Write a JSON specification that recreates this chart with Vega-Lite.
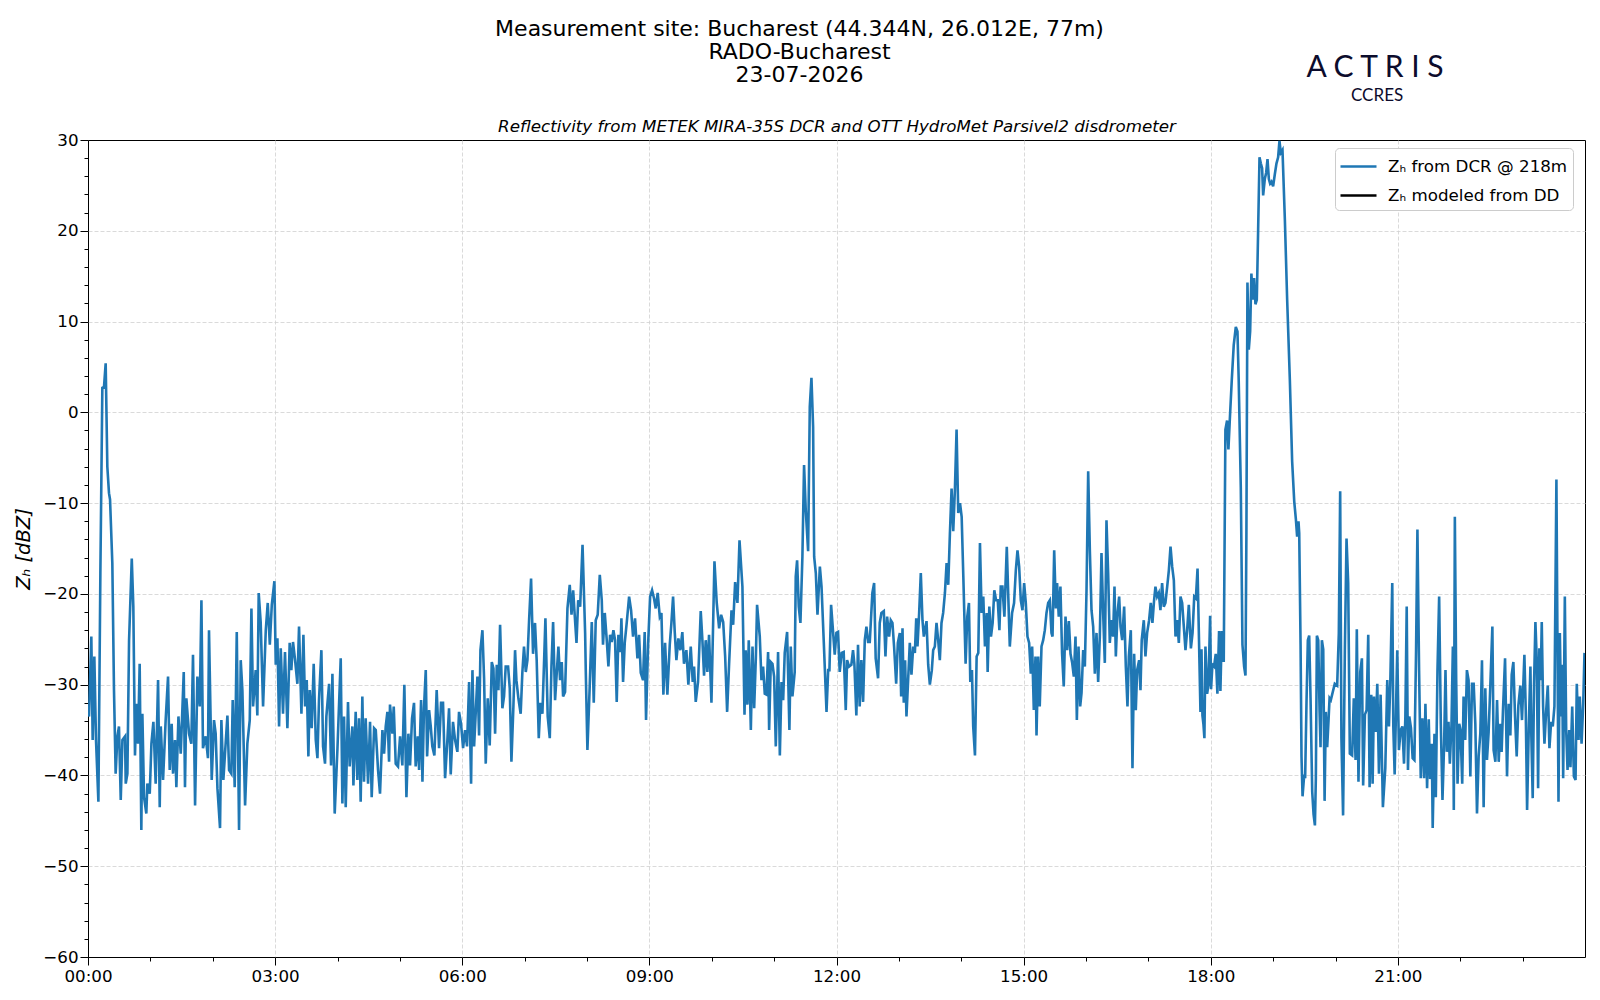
{
  "$schema": "https://vega.github.io/schema/vega-lite/v6.json",
  "width": 1497,
  "height": 817,
  "autosize": {"type": "none"},
  "padding": {"left": 88, "top": 140, "right": 15, "bottom": 43},
  "background": "white",
  "title": {
    "text": ["Measurement site: Bucharest (44.344N, 26.012E, 77m)", "RADO-Bucharest", "23-07-2026"],
    "font": "DejaVu Sans",
    "fontSize": 22,
    "fontWeight": "normal",
    "color": "black",
    "anchor": "middle",
    "lineHeight": 23,
    "offset": 30,
    "dx": -37,
    "dy": 64
  },
  "config": {
    "font": "DejaVu Sans",
    "view": {"stroke": "black", "strokeWidth": 1},
    "axis": {
      "domain": false,
      "labelFont": "DejaVu Sans",
      "labelFontSize": 16.7,
      "labelColor": "black",
      "tickColor": "black",
      "tickWidth": 1,
      "gridColor": "#d0d0d0",
      "gridDash": [4, 2],
      "gridWidth": 0.8,
      "labelOverlap": false,
      "labelFlush": false,
      "labelPadding": 3
    }
  },
  "layer": [
    {
      "data": {
        "values": [
          {"minute": 0, "zh": -32.8}, {"minute": 1, "zh": -33.5}, {"minute": 3.2, "zh": -24.7}, {"minute": 4.5, "zh": -36.1},
          {"minute": 6.1, "zh": -26.9}, {"minute": 7.7, "zh": -36.1}, {"minute": 10, "zh": -42.9}, {"minute": 11.9, "zh": -17.7},
          {"minute": 13.8, "zh": 2.7}, {"minute": 15.4, "zh": 2.8}, {"minute": 17, "zh": 5.4}, {"minute": 18.6, "zh": -6},
          {"minute": 20.2, "zh": -8.9}, {"minute": 21.2, "zh": -9.6}, {"minute": 23.4, "zh": -16.6}, {"minute": 25, "zh": -30.6},
          {"minute": 26.6, "zh": -39.8}, {"minute": 28.3, "zh": -35.7}, {"minute": 29.8, "zh": -34.6}, {"minute": 31.5, "zh": -42.7},
          {"minute": 33.1, "zh": -36.1}, {"minute": 35.6, "zh": -35.7}, {"minute": 36.3, "zh": -40.9}, {"minute": 37.9, "zh": -39.8},
          {"minute": 39.5, "zh": -25.1}, {"minute": 42.1, "zh": -16.1}, {"minute": 43.6, "zh": -21.4}, {"minute": 45.2, "zh": -37.8},
          {"minute": 46.5, "zh": -32.1}, {"minute": 48.1, "zh": -36.5}, {"minute": 49.7, "zh": -27.7}, {"minute": 51.3, "zh": -46},
          {"minute": 52.3, "zh": -33.2}, {"minute": 53.9, "zh": -42.4}, {"minute": 56.1, "zh": -44.2}, {"minute": 57.1, "zh": -40.9},
          {"minute": 59.4, "zh": -42}, {"minute": 61, "zh": -36.5}, {"minute": 62.9, "zh": -34.1}, {"minute": 65.1, "zh": -40.9},
          {"minute": 67.4, "zh": -29.5}, {"minute": 69, "zh": -43.5}, {"minute": 70, "zh": -34.6}, {"minute": 72.2, "zh": -40.5},
          {"minute": 74.7, "zh": -33.9}, {"minute": 77, "zh": -29.1}, {"minute": 78.6, "zh": -39.4}, {"minute": 80.5, "zh": -34.3},
          {"minute": 81.8, "zh": -39.8}, {"minute": 83.7, "zh": -36.1}, {"minute": 85, "zh": -41.3}, {"minute": 87, "zh": -33.5},
          {"minute": 89.2, "zh": -37.6}, {"minute": 92.1, "zh": -28.6}, {"minute": 93.3, "zh": -41.3}, {"minute": 94.6, "zh": -31.5},
          {"minute": 97.2, "zh": -35.4}, {"minute": 99.4, "zh": -36.5}, {"minute": 101, "zh": -26.7}, {"minute": 103, "zh": -43.3},
          {"minute": 105.2, "zh": -29.1}, {"minute": 107.5, "zh": -32.4}, {"minute": 109.1, "zh": -20.7}, {"minute": 110.6, "zh": -37},
          {"minute": 113.2, "zh": -35.7}, {"minute": 115.4, "zh": -38.1}, {"minute": 116.4, "zh": -24}, {"minute": 119, "zh": -40.5},
          {"minute": 121.2, "zh": -33.9}, {"minute": 122.8, "zh": -35.4}, {"minute": 124.5, "zh": -41.4}, {"minute": 127, "zh": -45.8},
          {"minute": 128.3, "zh": -33.9}, {"minute": 130.2, "zh": -40.5}, {"minute": 134.1, "zh": -33.4}, {"minute": 135.7, "zh": -39.4},
          {"minute": 137.9, "zh": -39.8}, {"minute": 139.2, "zh": -31.7}, {"minute": 141.1, "zh": -41.3}, {"minute": 143.1, "zh": -24.2},
          {"minute": 145.3, "zh": -46}, {"minute": 146.9, "zh": -27.3}, {"minute": 148.5, "zh": -30.6}, {"minute": 151.1, "zh": -43.3},
          {"minute": 153.3, "zh": -36.5}, {"minute": 155.6, "zh": -33.9}, {"minute": 157.2, "zh": -21.6}, {"minute": 158.8, "zh": -32.4},
          {"minute": 161.3, "zh": -28.4}, {"minute": 162.9, "zh": -33.4}, {"minute": 164.2, "zh": -19.9}, {"minute": 166.1, "zh": -23.1},
          {"minute": 168.4, "zh": -32.4}, {"minute": 171, "zh": -24}, {"minute": 172.9, "zh": -21}, {"minute": 174.9, "zh": -25.6},
          {"minute": 176.8, "zh": -21.2}, {"minute": 179.3, "zh": -18.6}, {"minute": 180.6, "zh": -27.8}, {"minute": 182.2, "zh": -24.9},
          {"minute": 183.8, "zh": -34.6}, {"minute": 185.4, "zh": -26}, {"minute": 187.6, "zh": -33.2}, {"minute": 189.5, "zh": -26.4},
          {"minute": 191.8, "zh": -34.8}, {"minute": 194, "zh": -25.4}, {"minute": 195.6, "zh": -28.4}, {"minute": 197.2, "zh": -25.3},
          {"minute": 199.2, "zh": -27.3}, {"minute": 201.4, "zh": -29.9}, {"minute": 203, "zh": -23.6}, {"minute": 205.3, "zh": -33.2},
          {"minute": 207.2, "zh": -24.5}, {"minute": 208.8, "zh": -32.4}, {"minute": 210.4, "zh": -29.5}, {"minute": 212, "zh": -37.9},
          {"minute": 213.3, "zh": -30.6}, {"minute": 215.2, "zh": -34.8}, {"minute": 217.1, "zh": -27.7}, {"minute": 219.1, "zh": -36.1},
          {"minute": 220.7, "zh": -38.1}, {"minute": 222.2, "zh": -31.7}, {"minute": 224.5, "zh": -26.2}, {"minute": 226.1, "zh": -36.8},
          {"minute": 228, "zh": -38.7}, {"minute": 229.3, "zh": -33.5}, {"minute": 231.9, "zh": -29.9}, {"minute": 233.8, "zh": -38.9},
          {"minute": 235.1, "zh": -28.8}, {"minute": 237.3, "zh": -44.2}, {"minute": 239.9, "zh": -37.2}, {"minute": 243.1, "zh": -27.1},
          {"minute": 244.7, "zh": -43.1}, {"minute": 246.3, "zh": -33.5}, {"minute": 247.9, "zh": -43.5}, {"minute": 250.1, "zh": -31.9},
          {"minute": 251.7, "zh": -39}, {"minute": 254.3, "zh": -34.6}, {"minute": 255.3, "zh": -41.1}, {"minute": 257.5, "zh": -33},
          {"minute": 259.1, "zh": -40.5}, {"minute": 260.7, "zh": -33.7}, {"minute": 262.3, "zh": -42.9}, {"minute": 263.9, "zh": -31.3},
          {"minute": 265.5, "zh": -40.7}, {"minute": 267.1, "zh": -33.7}, {"minute": 269.4, "zh": -40.9}, {"minute": 271.3, "zh": -34.1},
          {"minute": 272.9, "zh": -42.4}, {"minute": 275.2, "zh": -34.8}, {"minute": 276.8, "zh": -35}, {"minute": 279, "zh": -39.4},
          {"minute": 280.9, "zh": -42}, {"minute": 283.2, "zh": -35}, {"minute": 284.8, "zh": -37.6}, {"minute": 286.4, "zh": -34.6},
          {"minute": 288, "zh": -33}, {"minute": 289.6, "zh": -38.5}, {"minute": 290.5, "zh": -32.2}, {"minute": 292.8, "zh": -35.4},
          {"minute": 294.1, "zh": -32.4}, {"minute": 296, "zh": -38.7}, {"minute": 298.2, "zh": -39}, {"minute": 300.2, "zh": -35.7},
          {"minute": 302.4, "zh": -38.9}, {"minute": 304.3, "zh": -30}, {"minute": 306.3, "zh": -42.4}, {"minute": 308.2, "zh": -35.4},
          {"minute": 309.8, "zh": -38.9}, {"minute": 311.7, "zh": -33.7}, {"minute": 313.6, "zh": -32}, {"minute": 315.2, "zh": -39},
          {"minute": 317.2, "zh": -35.7}, {"minute": 318.5, "zh": -39.4}, {"minute": 320.4, "zh": -31.7}, {"minute": 321.7, "zh": -40.7},
          {"minute": 323.2, "zh": -32.6}, {"minute": 324.9, "zh": -28.4}, {"minute": 326.2, "zh": -37.9}, {"minute": 328.1, "zh": -32.8},
          {"minute": 329.7, "zh": -34.6}, {"minute": 331.2, "zh": -36.8}, {"minute": 333.2, "zh": -37.8}, {"minute": 335.4, "zh": -30.6},
          {"minute": 337.7, "zh": -37}, {"minute": 339.6, "zh": -32}, {"minute": 341.5, "zh": -32}, {"minute": 343.5, "zh": -40.3},
          {"minute": 345.7, "zh": -36.1}, {"minute": 347.3, "zh": -32.6}, {"minute": 348.9, "zh": -39.9}, {"minute": 351.1, "zh": -34.1},
          {"minute": 353.1, "zh": -36.1}, {"minute": 355.3, "zh": -37.4}, {"minute": 356.9, "zh": -33}, {"minute": 358.8, "zh": -34.3},
          {"minute": 360.8, "zh": -37}, {"minute": 362.7, "zh": -35}, {"minute": 364.6, "zh": -36.8}, {"minute": 366.6, "zh": -29.7},
          {"minute": 368.5, "zh": -40.9}, {"minute": 369.8, "zh": -28.4}, {"minute": 371.4, "zh": -36.8}, {"minute": 373, "zh": -33},
          {"minute": 374.6, "zh": -29.1}, {"minute": 376.2, "zh": -35.6}, {"minute": 377.5, "zh": -26.2}, {"minute": 379.4, "zh": -24},
          {"minute": 381, "zh": -29.3}, {"minute": 382.6, "zh": -38.7}, {"minute": 384.5, "zh": -31.5}, {"minute": 386.4, "zh": -36.7},
          {"minute": 388.4, "zh": -27.5}, {"minute": 390, "zh": -28.2}, {"minute": 391.6, "zh": -35.4}, {"minute": 393.2, "zh": -27.8},
          {"minute": 394.8, "zh": -30.6}, {"minute": 396.4, "zh": -23.4}, {"minute": 398.6, "zh": -32.6}, {"minute": 400.2, "zh": -31.3},
          {"minute": 401.8, "zh": -28}, {"minute": 404.1, "zh": -28}, {"minute": 405.7, "zh": -30.4}, {"minute": 407.3, "zh": -38.5},
          {"minute": 409.2, "zh": -32.4}, {"minute": 410.8, "zh": -26.2}, {"minute": 412.1, "zh": -29.5}, {"minute": 414, "zh": -31.5},
          {"minute": 416.2, "zh": -33.2}, {"minute": 417.8, "zh": -28.7}, {"minute": 419.4, "zh": -25.8}, {"minute": 421.1, "zh": -28.6},
          {"minute": 422.7, "zh": -27.3}, {"minute": 424.3, "zh": -22.9}, {"minute": 426.2, "zh": -18.3}, {"minute": 428.1, "zh": -26.6},
          {"minute": 430, "zh": -23.2}, {"minute": 431.6, "zh": -27.3}, {"minute": 433.6, "zh": -35.9}, {"minute": 435.2, "zh": -32},
          {"minute": 437.1, "zh": -33.2}, {"minute": 439, "zh": -26.4}, {"minute": 440, "zh": -22.7}, {"minute": 442.2, "zh": -33.5},
          {"minute": 444.2, "zh": -35.9}, {"minute": 445.8, "zh": -28}, {"minute": 447.4, "zh": -23.1}, {"minute": 449.3, "zh": -31.7},
          {"minute": 450.9, "zh": -28.7}, {"minute": 452.5, "zh": -25.8}, {"minute": 454.1, "zh": -29.5}, {"minute": 455.7, "zh": -27.5},
          {"minute": 457, "zh": -31.3}, {"minute": 458.9, "zh": -30.8}, {"minute": 461.2, "zh": -21.6}, {"minute": 463.4, "zh": -19},
          {"minute": 465.1, "zh": -22.3}, {"minute": 466.7, "zh": -19.6}, {"minute": 468.6, "zh": -23.1}, {"minute": 469.9, "zh": -25.4},
          {"minute": 471.5, "zh": -20.7}, {"minute": 473.4, "zh": -21.4}, {"minute": 475.7, "zh": -14.6}, {"minute": 478.2, "zh": -24.3},
          {"minute": 478.8, "zh": -28.4}, {"minute": 480.4, "zh": -37.2}, {"minute": 482.6, "zh": -30.2}, {"minute": 484.6, "zh": -23.1},
          {"minute": 486.5, "zh": -32}, {"minute": 488.4, "zh": -22.9}, {"minute": 490.3, "zh": -22.3}, {"minute": 492.3, "zh": -17.9},
          {"minute": 494.2, "zh": -20.7}, {"minute": 495.4, "zh": -25.6}, {"minute": 497.1, "zh": -22.1}, {"minute": 499, "zh": -25.1},
          {"minute": 500.6, "zh": -28}, {"minute": 502.2, "zh": -24.5}, {"minute": 503.8, "zh": -25.3}, {"minute": 505.4, "zh": -24},
          {"minute": 507, "zh": -25.1}, {"minute": 508.6, "zh": -31.9}, {"minute": 510.2, "zh": -24.5}, {"minute": 512.1, "zh": -26.4},
          {"minute": 513.1, "zh": -22.7}, {"minute": 514.7, "zh": -29.7}, {"minute": 516.3, "zh": -25.4}, {"minute": 518.2, "zh": -23.2},
          {"minute": 520.5, "zh": -20.3}, {"minute": 522.4, "zh": -21.8}, {"minute": 524.3, "zh": -24.7}, {"minute": 526.2, "zh": -22.7},
          {"minute": 528.5, "zh": -27.1}, {"minute": 530.1, "zh": -24.5}, {"minute": 531.7, "zh": -28.7}, {"minute": 533.9, "zh": -29.5},
          {"minute": 535.5, "zh": -24.2}, {"minute": 536.8, "zh": -33.9}, {"minute": 538.7, "zh": -25.8}, {"minute": 540.7, "zh": -20.3},
          {"minute": 542.6, "zh": -19.6}, {"minute": 544.5, "zh": -20.5}, {"minute": 546.1, "zh": -21.6}, {"minute": 548, "zh": -19.9},
          {"minute": 550, "zh": -22.5}, {"minute": 551.6, "zh": -22.1}, {"minute": 553.5, "zh": -31.1}, {"minute": 555.1, "zh": -25.4},
          {"minute": 557.3, "zh": -31.1}, {"minute": 559.6, "zh": -25.6}, {"minute": 561.2, "zh": -23.2}, {"minute": 562.8, "zh": -20.3},
          {"minute": 564.4, "zh": -24.2}, {"minute": 566, "zh": -27.3}, {"minute": 567.9, "zh": -24.9}, {"minute": 569.8, "zh": -26.2},
          {"minute": 571.7, "zh": -24.2}, {"minute": 573.3, "zh": -27.7}, {"minute": 575.6, "zh": -26.2}, {"minute": 577.5, "zh": -30},
          {"minute": 579.8, "zh": -25.8}, {"minute": 581.7, "zh": -29.7}, {"minute": 583, "zh": -28}, {"minute": 584.6, "zh": -31.9},
          {"minute": 586.8, "zh": -29.7}, {"minute": 589.4, "zh": -21.9}, {"minute": 591, "zh": -25.1}, {"minute": 592.6, "zh": -29},
          {"minute": 594.2, "zh": -25.1}, {"minute": 595.8, "zh": -28.6}, {"minute": 597.4, "zh": -24.5}, {"minute": 599.7, "zh": -32},
          {"minute": 602.6, "zh": -16.4}, {"minute": 604.8, "zh": -21}, {"minute": 607.1, "zh": -23.8}, {"minute": 609, "zh": -22.3},
          {"minute": 611, "zh": -23.1}, {"minute": 612.9, "zh": -26.9}, {"minute": 614.8, "zh": -33}, {"minute": 616.7, "zh": -27.7},
          {"minute": 619, "zh": -21.8}, {"minute": 620.6, "zh": -23.4}, {"minute": 622.5, "zh": -18.7}, {"minute": 624.7, "zh": -21},
          {"minute": 626.7, "zh": -14.1}, {"minute": 629.5, "zh": -19.2}, {"minute": 631.5, "zh": -33.3}, {"minute": 632.7, "zh": -26.2},
          {"minute": 634.3, "zh": -32.2}, {"minute": 635.6, "zh": -25.1}, {"minute": 637.6, "zh": -35}, {"minute": 639.2, "zh": -25.8},
          {"minute": 640.8, "zh": -32.6}, {"minute": 642.4, "zh": -27.1}, {"minute": 643.6, "zh": -21.2}, {"minute": 646.2, "zh": -24.7},
          {"minute": 647.8, "zh": -29.5}, {"minute": 649.4, "zh": -28}, {"minute": 651, "zh": -31}, {"minute": 652.6, "zh": -31.1},
          {"minute": 654.2, "zh": -26.4}, {"minute": 655.2, "zh": -35}, {"minute": 656.8, "zh": -27.5}, {"minute": 658.4, "zh": -27.7},
          {"minute": 660, "zh": -29.1}, {"minute": 661.6, "zh": -36.8}, {"minute": 663.8, "zh": -26.4}, {"minute": 665.5, "zh": -37.8},
          {"minute": 667.1, "zh": -29.7}, {"minute": 668.7, "zh": -31.7}, {"minute": 670.2, "zh": -26.5}, {"minute": 672.5, "zh": -24.2},
          {"minute": 674.7, "zh": -35}, {"minute": 676, "zh": -25.8}, {"minute": 677.6, "zh": -31.3}, {"minute": 679.8, "zh": -28.6},
          {"minute": 680.8, "zh": -18.1}, {"minute": 682.1, "zh": -16.3}, {"minute": 683.7, "zh": -21.4}, {"minute": 685.3, "zh": -23.2},
          {"minute": 687.2, "zh": -15.9}, {"minute": 688.8, "zh": -5.8}, {"minute": 690.4, "zh": -10.7}, {"minute": 692.7, "zh": -15.3},
          {"minute": 694.3, "zh": 0.6}, {"minute": 695.9, "zh": 3.8}, {"minute": 697.5, "zh": -1.6}, {"minute": 698.5, "zh": -15.9},
          {"minute": 700.1, "zh": -17.7}, {"minute": 701.7, "zh": -22.3}, {"minute": 704, "zh": -17}, {"minute": 705.6, "zh": -19.2},
          {"minute": 707.8, "zh": -25.4}, {"minute": 710.4, "zh": -33}, {"minute": 712, "zh": -28.4}, {"minute": 713.2, "zh": -28.4},
          {"minute": 714.8, "zh": -21.2}, {"minute": 718.3, "zh": -26.7}, {"minute": 719.9, "zh": -24.3}, {"minute": 721.5, "zh": -24.2},
          {"minute": 723.1, "zh": -28.6}, {"minute": 725, "zh": -26.5}, {"minute": 726.9, "zh": -26.4}, {"minute": 728.9, "zh": -32.8},
          {"minute": 730.2, "zh": -27.3}, {"minute": 732.1, "zh": -28}, {"minute": 734.3, "zh": -27.8}, {"minute": 735.9, "zh": -26.2},
          {"minute": 737.2, "zh": -27.7}, {"minute": 739.1, "zh": -33.4}, {"minute": 740.7, "zh": -25.6}, {"minute": 742.3, "zh": -32.4},
          {"minute": 743.9, "zh": -27.3}, {"minute": 745.6, "zh": -31.9}, {"minute": 747.2, "zh": -25.1}, {"minute": 748.8, "zh": -23.6},
          {"minute": 750.4, "zh": -25.3}, {"minute": 752, "zh": -25.3}, {"minute": 754.5, "zh": -19.9}, {"minute": 756.2, "zh": -18.8},
          {"minute": 757.7, "zh": -27.1}, {"minute": 760, "zh": -29.3}, {"minute": 761.6, "zh": -23.2}, {"minute": 763.2, "zh": -22.1},
          {"minute": 765.5, "zh": -21.9}, {"minute": 767.1, "zh": -26.9}, {"minute": 768.7, "zh": -22.5}, {"minute": 770.6, "zh": -24.7},
          {"minute": 772.2, "zh": -22.9}, {"minute": 773.8, "zh": -23.2}, {"minute": 775.4, "zh": -25.8}, {"minute": 777.4, "zh": -29.9},
          {"minute": 779, "zh": -25.4}, {"minute": 780.9, "zh": -24.3}, {"minute": 782.2, "zh": -31.3}, {"minute": 783.5, "zh": -23.8},
          {"minute": 784.7, "zh": -32}, {"minute": 786, "zh": -27.3}, {"minute": 787.3, "zh": -33.5}, {"minute": 788.9, "zh": -29.5},
          {"minute": 790.5, "zh": -25.4}, {"minute": 792.1, "zh": -28.9}, {"minute": 793.8, "zh": -25.8}, {"minute": 795.4, "zh": -26.5},
          {"minute": 796.7, "zh": -22.7}, {"minute": 797.9, "zh": -25.8}, {"minute": 799.5, "zh": -22.1}, {"minute": 801.1, "zh": -17.7},
          {"minute": 802.7, "zh": -22.9}, {"minute": 804, "zh": -24.7}, {"minute": 806.6, "zh": -23}, {"minute": 808.2, "zh": -27.8},
          {"minute": 809.8, "zh": -30}, {"minute": 811.7, "zh": -28.4}, {"minute": 813, "zh": -26.2}, {"minute": 814.6, "zh": -25.8},
          {"minute": 816.2, "zh": -23.2}, {"minute": 817.8, "zh": -25.1}, {"minute": 819.4, "zh": -27.3}, {"minute": 821, "zh": -23.2},
          {"minute": 822.6, "zh": -22.1}, {"minute": 824.3, "zh": -19.9}, {"minute": 825.9, "zh": -16.6}, {"minute": 827.5, "zh": -19},
          {"minute": 829.1, "zh": -13.3}, {"minute": 830.7, "zh": -8.4}, {"minute": 832.3, "zh": -13.1}, {"minute": 833.9, "zh": -8.5},
          {"minute": 835.5, "zh": -1.9}, {"minute": 837.1, "zh": -11.1}, {"minute": 838.8, "zh": -10}, {"minute": 840.4, "zh": -11.5},
          {"minute": 842, "zh": -18.1}, {"minute": 844.2, "zh": -27.7}, {"minute": 845.8, "zh": -22.5}, {"minute": 847.4, "zh": -21},
          {"minute": 848.7, "zh": -29.7}, {"minute": 850.3, "zh": -28.4}, {"minute": 851.5, "zh": -34.6}, {"minute": 853.2, "zh": -37.8},
          {"minute": 854.8, "zh": -26.9}, {"minute": 856.4, "zh": -26.5}, {"minute": 858, "zh": -14.4}, {"minute": 859.6, "zh": -22.1},
          {"minute": 861.2, "zh": -20.3}, {"minute": 862.8, "zh": -25.8}, {"minute": 864.5, "zh": -22.1}, {"minute": 865.4, "zh": -28.6},
          {"minute": 867, "zh": -21.4}, {"minute": 868.6, "zh": -24.7}, {"minute": 870.2, "zh": -23.2}, {"minute": 871.8, "zh": -19.6},
          {"minute": 873.5, "zh": -20.7}, {"minute": 875.1, "zh": -20.7}, {"minute": 876.7, "zh": -24}, {"minute": 878, "zh": -19.2},
          {"minute": 879.6, "zh": -19.2}, {"minute": 881.5, "zh": -22.5}, {"minute": 883.8, "zh": -14.8}, {"minute": 886.7, "zh": -25.8},
          {"minute": 888.9, "zh": -22.1}, {"minute": 890.8, "zh": -21}, {"minute": 892.5, "zh": -17.4}, {"minute": 894.1, "zh": -15.2},
          {"minute": 895.7, "zh": -17}, {"minute": 897.3, "zh": -20.7}, {"minute": 898.9, "zh": -21.8}, {"minute": 900.5, "zh": -18.8},
          {"minute": 902.1, "zh": -21}, {"minute": 903.7, "zh": -24.7}, {"minute": 905.3, "zh": -25.4}, {"minute": 906.9, "zh": -28.8},
          {"minute": 908.2, "zh": -25.8}, {"minute": 909.8, "zh": -32.8}, {"minute": 911.4, "zh": -26.9}, {"minute": 912.4, "zh": -35.6},
          {"minute": 914, "zh": -26.9}, {"minute": 915.5, "zh": -32.4}, {"minute": 917.2, "zh": -25.8}, {"minute": 918.8, "zh": -25.1},
          {"minute": 920.4, "zh": -24}, {"minute": 922, "zh": -22.1}, {"minute": 923.6, "zh": -21}, {"minute": 925.2, "zh": -20.7},
          {"minute": 926.8, "zh": -24.3}, {"minute": 927.8, "zh": -24.7}, {"minute": 929.4, "zh": -15.2}, {"minute": 931, "zh": -21.6},
          {"minute": 932.2, "zh": -18.8}, {"minute": 933.8, "zh": -22.5}, {"minute": 935.4, "zh": -19.2}, {"minute": 937, "zh": -26.6},
          {"minute": 938.6, "zh": -30.2}, {"minute": 940.3, "zh": -22.5}, {"minute": 941.9, "zh": -26.2}, {"minute": 943.5, "zh": -23},
          {"minute": 945.1, "zh": -26.6}, {"minute": 946.7, "zh": -27.6}, {"minute": 948.3, "zh": -29.1}, {"minute": 949.9, "zh": -24.7},
          {"minute": 951.2, "zh": -33.9}, {"minute": 952.8, "zh": -25.8}, {"minute": 954.4, "zh": -32.4}, {"minute": 955.7, "zh": -30.9},
          {"minute": 957.3, "zh": -26.2}, {"minute": 958.9, "zh": -28}, {"minute": 960.5, "zh": -19.6}, {"minute": 962.1, "zh": -6.5},
          {"minute": 963.7, "zh": -15.2}, {"minute": 965.3, "zh": -21.8}, {"minute": 966.9, "zh": -23.6}, {"minute": 968.5, "zh": -28.8},
          {"minute": 970.1, "zh": -24.3}, {"minute": 971.7, "zh": -29.7}, {"minute": 973.3, "zh": -24.7}, {"minute": 974.9, "zh": -15.5},
          {"minute": 976.5, "zh": -22.1}, {"minute": 978.1, "zh": -27.6}, {"minute": 979.7, "zh": -11.9}, {"minute": 981.3, "zh": -17.7},
          {"minute": 982.9, "zh": -25.4}, {"minute": 984.5, "zh": -22.9}, {"minute": 986.1, "zh": -24.7}, {"minute": 987.4, "zh": -19.2},
          {"minute": 988.7, "zh": -26.9}, {"minute": 990.3, "zh": -22.1}, {"minute": 991.9, "zh": -20.3}, {"minute": 993.2, "zh": -23.6},
          {"minute": 994.8, "zh": -25.1}, {"minute": 996.7, "zh": -21.4}, {"minute": 998.3, "zh": -28}, {"minute": 999.9, "zh": -32.4},
          {"minute": 1001.2, "zh": -26.9}, {"minute": 1003.1, "zh": -24}, {"minute": 1004.7, "zh": -39.2}, {"minute": 1006.3, "zh": -26.6},
          {"minute": 1007.9, "zh": -32.8}, {"minute": 1009.2, "zh": -28.4}, {"minute": 1011.1, "zh": -27.3}, {"minute": 1012.4, "zh": -30.6},
          {"minute": 1013.6, "zh": -25.1}, {"minute": 1015.6, "zh": -22.9}, {"minute": 1017.2, "zh": -26.9}, {"minute": 1018.8, "zh": -24.3},
          {"minute": 1020.7, "zh": -22.9}, {"minute": 1022.3, "zh": -21}, {"minute": 1023.9, "zh": -23.2}, {"minute": 1025.5, "zh": -20.7},
          {"minute": 1026.8, "zh": -19.2}, {"minute": 1028.4, "zh": -20.3}, {"minute": 1030, "zh": -19.9}, {"minute": 1031.6, "zh": -21.8},
          {"minute": 1033.2, "zh": -18.8}, {"minute": 1034.8, "zh": -21.4}, {"minute": 1036.4, "zh": -21}, {"minute": 1038.1, "zh": -19.2},
          {"minute": 1039.7, "zh": -17.4}, {"minute": 1041.3, "zh": -14.8}, {"minute": 1042.9, "zh": -17}, {"minute": 1044.5, "zh": -18.5},
          {"minute": 1046.1, "zh": -24.7}, {"minute": 1047.7, "zh": -22.9}, {"minute": 1049.3, "zh": -25.4}, {"minute": 1050.9, "zh": -20.3},
          {"minute": 1052.5, "zh": -21}, {"minute": 1054.1, "zh": -23.6}, {"minute": 1055.7, "zh": -26.2}, {"minute": 1057.3, "zh": -24},
          {"minute": 1058.9, "zh": -21.2}, {"minute": 1060.9, "zh": -26}, {"minute": 1062.5, "zh": -24.3}, {"minute": 1064.1, "zh": -20.3},
          {"minute": 1065.7, "zh": -20.5}, {"minute": 1067.3, "zh": -17.2}, {"minute": 1070.1, "zh": -33}, {"minute": 1071.1, "zh": -26.1},
          {"minute": 1072, "zh": -33.4}, {"minute": 1073, "zh": -34.4}, {"minute": 1073.9, "zh": -35.9}, {"minute": 1074.9, "zh": -25.8},
          {"minute": 1076.5, "zh": -31}, {"minute": 1077.8, "zh": -30}, {"minute": 1079.4, "zh": -22.4}, {"minute": 1080.3, "zh": -30.5},
          {"minute": 1081.6, "zh": -27.8}, {"minute": 1083.2, "zh": -28}, {"minute": 1084.8, "zh": -26.6}, {"minute": 1086.4, "zh": -31},
          {"minute": 1088, "zh": -24.1}, {"minute": 1089.3, "zh": -30.7}, {"minute": 1090.6, "zh": -24.1}, {"minute": 1092.5, "zh": -27.5},
          {"minute": 1094.1, "zh": -1.9}, {"minute": 1095.7, "zh": -0.9}, {"minute": 1097, "zh": -4.1}, {"minute": 1098.3, "zh": -0.9},
          {"minute": 1100.2, "zh": 3.5}, {"minute": 1102.1, "zh": 7.4}, {"minute": 1104.1, "zh": 9.4}, {"minute": 1105.7, "zh": 8.9},
          {"minute": 1106.9, "zh": 3.5}, {"minute": 1108.9, "zh": -8.3}, {"minute": 1110.5, "zh": -25.6}, {"minute": 1112.1, "zh": -28},
          {"minute": 1113.4, "zh": -29}, {"minute": 1114.3, "zh": -13.3}, {"minute": 1115.3, "zh": 14.3}, {"minute": 1116.6, "zh": 6.9},
          {"minute": 1117.9, "zh": 8.9}, {"minute": 1119.1, "zh": 15.3}, {"minute": 1120.4, "zh": 12.4}, {"minute": 1121.7, "zh": 14.8},
          {"minute": 1123, "zh": 11.9}, {"minute": 1124.3, "zh": 12.4}, {"minute": 1125.6, "zh": 20.2}, {"minute": 1126.9, "zh": 28.1},
          {"minute": 1128.2, "zh": 27.4}, {"minute": 1129.4, "zh": 26.9}, {"minute": 1130.4, "zh": 23.9}, {"minute": 1132, "zh": 25.7},
          {"minute": 1133.3, "zh": 26.4}, {"minute": 1134.6, "zh": 27.9}, {"minute": 1135.9, "zh": 25.7}, {"minute": 1137.1, "zh": 25.2},
          {"minute": 1138.4, "zh": 25.4}, {"minute": 1140, "zh": 24.9}, {"minute": 1141.6, "zh": 26.2}, {"minute": 1143.2, "zh": 27.4},
          {"minute": 1144.8, "zh": 28.1}, {"minute": 1146.1, "zh": 29.9}, {"minute": 1147.4, "zh": 28.6}, {"minute": 1149, "zh": 28.9},
          {"minute": 1151.3, "zh": 21.2}, {"minute": 1153.5, "zh": 12.4}, {"minute": 1156.1, "zh": 3.5}, {"minute": 1158.3, "zh": -5.4},
          {"minute": 1160.3, "zh": -9.8}, {"minute": 1161.9, "zh": -11.8}, {"minute": 1163.1, "zh": -13.7}, {"minute": 1164.4, "zh": -12},
          {"minute": 1165.1, "zh": -13.3}, {"minute": 1166.4, "zh": -25.6}, {"minute": 1167.3, "zh": -37.9}, {"minute": 1168.3, "zh": -42.3},
          {"minute": 1169.9, "zh": -39.9}, {"minute": 1170.8, "zh": -40.3}, {"minute": 1172.1, "zh": -32}, {"minute": 1173.4, "zh": -25.1},
          {"minute": 1174.7, "zh": -24.6}, {"minute": 1176, "zh": -31.5}, {"minute": 1177.6, "zh": -41.8}, {"minute": 1178.9, "zh": -44.3},
          {"minute": 1180.2, "zh": -45.5}, {"minute": 1181.1, "zh": -40.3}, {"minute": 1182.1, "zh": -24.6}, {"minute": 1183.4, "zh": -25.1},
          {"minute": 1184.7, "zh": -33}, {"minute": 1185.6, "zh": -36.9}, {"minute": 1186.9, "zh": -25.1}, {"minute": 1188.2, "zh": -26.1},
          {"minute": 1189.5, "zh": -42.8}, {"minute": 1190.7, "zh": -33}, {"minute": 1192, "zh": -36.9}, {"minute": 1193.3, "zh": -33.9},
          {"minute": 1194.3, "zh": -31.5}, {"minute": 1195.5, "zh": -31.7}, {"minute": 1199.3, "zh": -29.9}, {"minute": 1201.6, "zh": -30.1},
          {"minute": 1203.2, "zh": -24.3}, {"minute": 1204.5, "zh": -8.7}, {"minute": 1205.7, "zh": -35.9}, {"minute": 1207.3, "zh": -44.4},
          {"minute": 1209, "zh": -26.2}, {"minute": 1210.6, "zh": -13.9}, {"minute": 1212.2, "zh": -18.8}, {"minute": 1213.8, "zh": -37.6},
          {"minute": 1216, "zh": -37.8}, {"minute": 1217.6, "zh": -31.5}, {"minute": 1219.3, "zh": -38.3}, {"minute": 1220.5, "zh": -23.9},
          {"minute": 1222.1, "zh": -40.7}, {"minute": 1223.8, "zh": -28.6}, {"minute": 1225.4, "zh": -27.1}, {"minute": 1226.6, "zh": -41.1},
          {"minute": 1228.3, "zh": -33.3}, {"minute": 1229.9, "zh": -32.8}, {"minute": 1231.5, "zh": -24.5}, {"minute": 1232.8, "zh": -41.3},
          {"minute": 1234.4, "zh": -31.1}, {"minute": 1235.7, "zh": -40.9}, {"minute": 1237, "zh": -31.3}, {"minute": 1238.6, "zh": -35.2},
          {"minute": 1240.2, "zh": -29.9}, {"minute": 1241.8, "zh": -39.8}, {"minute": 1243.4, "zh": -31.1}, {"minute": 1245.6, "zh": -43.5},
          {"minute": 1247.9, "zh": -39.2}, {"minute": 1249.8, "zh": -29.5}, {"minute": 1251.4, "zh": -34.6}, {"minute": 1252.7, "zh": -29.9},
          {"minute": 1254.6, "zh": -18.8}, {"minute": 1255.6, "zh": -34.6}, {"minute": 1256.9, "zh": -39.9}, {"minute": 1258.2, "zh": -32.8},
          {"minute": 1259.4, "zh": -26.2}, {"minute": 1261, "zh": -37.2}, {"minute": 1262.7, "zh": -35}, {"minute": 1264.3, "zh": -34.6},
          {"minute": 1265.9, "zh": -38.7}, {"minute": 1267.2, "zh": -33.5}, {"minute": 1268.5, "zh": -21.4}, {"minute": 1269.7, "zh": -39.4},
          {"minute": 1271, "zh": -33.5}, {"minute": 1272.6, "zh": -34.8}, {"minute": 1274.2, "zh": -38.1}, {"minute": 1275.9, "zh": -38.3},
          {"minute": 1277.5, "zh": -26.2}, {"minute": 1278.8, "zh": -12.9}, {"minute": 1280.4, "zh": -28.4}, {"minute": 1282, "zh": -40.3},
          {"minute": 1283.6, "zh": -33.7}, {"minute": 1285.2, "zh": -40.3}, {"minute": 1286.5, "zh": -32.1}, {"minute": 1288.1, "zh": -41.4},
          {"minute": 1289.7, "zh": -33.8}, {"minute": 1291, "zh": -40.4}, {"minute": 1292.6, "zh": -36.5}, {"minute": 1293.5, "zh": -45.8},
          {"minute": 1295.2, "zh": -35.4}, {"minute": 1296.5, "zh": -42.4}, {"minute": 1298.1, "zh": -28.4}, {"minute": 1299.7, "zh": -20.3},
          {"minute": 1301.3, "zh": -34.3}, {"minute": 1302.9, "zh": -42.7}, {"minute": 1304.5, "zh": -36.5}, {"minute": 1305.8, "zh": -28.4},
          {"minute": 1307.1, "zh": -37.4}, {"minute": 1308.7, "zh": -34.1}, {"minute": 1310, "zh": -38.7}, {"minute": 1311.6, "zh": -34.3},
          {"minute": 1312.9, "zh": -25.8}, {"minute": 1313.8, "zh": -43.8}, {"minute": 1314.8, "zh": -11.5}, {"minute": 1316.1, "zh": -29.5},
          {"minute": 1317.4, "zh": -40.9}, {"minute": 1319, "zh": -34.3}, {"minute": 1320.3, "zh": -35}, {"minute": 1321.9, "zh": -40.9},
          {"minute": 1323.2, "zh": -31.3}, {"minute": 1324.8, "zh": -36.1}, {"minute": 1326.4, "zh": -28.4}, {"minute": 1328, "zh": -29.5},
          {"minute": 1329.7, "zh": -40.1}, {"minute": 1331.3, "zh": -29.9}, {"minute": 1332.9, "zh": -29.9}, {"minute": 1334.5, "zh": -34.3},
          {"minute": 1336.1, "zh": -44.2}, {"minute": 1337.7, "zh": -37.9}, {"minute": 1339.3, "zh": -35.4}, {"minute": 1340.9, "zh": -27.3},
          {"minute": 1342.5, "zh": -43.5}, {"minute": 1344.1, "zh": -30.4}, {"minute": 1345.7, "zh": -38.3}, {"minute": 1347.3, "zh": -35.2},
          {"minute": 1349, "zh": -29.9}, {"minute": 1350.9, "zh": -23.6}, {"minute": 1352.1, "zh": -37.2}, {"minute": 1353.8, "zh": -38.5},
          {"minute": 1355.4, "zh": -31.7}, {"minute": 1357, "zh": -38.5}, {"minute": 1358.6, "zh": -34.3}, {"minute": 1359.8, "zh": -37.4},
          {"minute": 1361.1, "zh": -32.8}, {"minute": 1363.1, "zh": -27.1}, {"minute": 1365, "zh": -40.1}, {"minute": 1366.6, "zh": -32.1},
          {"minute": 1368.2, "zh": -35.6}, {"minute": 1369.5, "zh": -28.9}, {"minute": 1371.1, "zh": -27.5}, {"minute": 1372.7, "zh": -33.5},
          {"minute": 1374.3, "zh": -37.9}, {"minute": 1375.9, "zh": -32.3}, {"minute": 1377.8, "zh": -30.1}, {"minute": 1379.4, "zh": -33.9},
          {"minute": 1381.7, "zh": -26.7}, {"minute": 1383, "zh": -32.8}, {"minute": 1384.3, "zh": -43.8}, {"minute": 1385.9, "zh": -34.8},
          {"minute": 1387.5, "zh": -28}, {"minute": 1388.4, "zh": -35.7}, {"minute": 1389.7, "zh": -42.5}, {"minute": 1391, "zh": -29.9},
          {"minute": 1392.3, "zh": -23.1}, {"minute": 1393.6, "zh": -27.3}, {"minute": 1394.9, "zh": -41.4}, {"minute": 1396.1, "zh": -26},
          {"minute": 1397.4, "zh": -29.5}, {"minute": 1398.4, "zh": -23.1}, {"minute": 1399.7, "zh": -32.4}, {"minute": 1401, "zh": -36.5},
          {"minute": 1402.6, "zh": -33}, {"minute": 1404.2, "zh": -30.1}, {"minute": 1405.8, "zh": -37}, {"minute": 1407.4, "zh": -34.1},
          {"minute": 1409, "zh": -34.6}, {"minute": 1410.6, "zh": -32.4}, {"minute": 1412.5, "zh": -7.4}, {"minute": 1414.5, "zh": -42.9},
          {"minute": 1415.8, "zh": -24.3}, {"minute": 1417.1, "zh": -33.5}, {"minute": 1418, "zh": -27.8}, {"minute": 1419, "zh": -40.3},
          {"minute": 1420.6, "zh": -20.3}, {"minute": 1421.9, "zh": -35}, {"minute": 1423.2, "zh": -39.4}, {"minute": 1424.8, "zh": -35},
          {"minute": 1426, "zh": -39.1}, {"minute": 1427.7, "zh": -32.4}, {"minute": 1429.3, "zh": -40.1}, {"minute": 1430.9, "zh": -40.5},
          {"minute": 1432.1, "zh": -29.9}, {"minute": 1433.8, "zh": -36.1}, {"minute": 1435, "zh": -31.3}, {"minute": 1436.7, "zh": -36.5},
          {"minute": 1438.3, "zh": -32.1}, {"minute": 1439.5, "zh": -26.5}
        ]
      },
      "mark": {"type": "line", "strokeWidth": 2.6, "clip": true},
      "encoding": {
        "x": {
          "field": "minute",
          "type": "quantitative",
          "scale": {"domain": [0, 1440], "nice": false, "zero": false},
          "axis": {
            "title": null,
            "labelOverlap": false,
            "values": [0, 60, 120, 180, 240, 300, 360, 420, 480, 540, 600, 660, 720, 780, 840, 900, 960, 1020, 1080, 1140, 1200, 1260, 1320, 1380],
            "labelExpr": "datum.value % 180 == 0 ? (datum.value < 600 ? '0' : '') + (datum.value / 60) + ':00' : ''",
            "tickSize": {"condition": {"test": "datum.value % 180 == 0", "value": 8}, "value": 4},
            "gridOpacity": {"condition": {"test": "datum.value % 180 == 0 && datum.value > 0", "value": 1}, "value": 0}
          }
        },
        "y": {
          "field": "zh",
          "type": "quantitative",
          "scale": {"domain": [-60, 30], "nice": false, "zero": false},
          "axis": {
            "title": "Zₕ [dBZ]",
            "titleFont": "DejaVu Sans",
            "titleFontSize": 19.5,
            "titleFontStyle": "italic",
            "titleFontWeight": "normal",
            "titleColor": "black",
            "titlePadding": 9,
            "labelOverlap": false,
            "labelPadding": 2,
            "values": [-60, -58, -56, -54, -52, -50, -48, -46, -44, -42, -40, -38, -36, -34, -32, -30, -28, -26, -24, -22, -20, -18, -16, -14, -12, -10, -8, -6, -4, -2, 0, 2, 4, 6, 8, 10, 12, 14, 16, 18, 20, 22, 24, 26, 28, 30],
            "labelExpr": "datum.value % 10 == 0 ? datum.label : ''",
            "tickSize": {"condition": {"test": "datum.value % 10 == 0", "value": 8}, "value": 4},
            "gridOpacity": {"condition": {"test": "datum.value % 10 == 0 && datum.value > -60 && datum.value < 30", "value": 1}, "value": 0}
          }
        },
        "color": {
          "datum": "Zₕ from DCR @ 218m",
          "scale": {"domain": ["Zₕ from DCR @ 218m", "Zₕ modeled from DD"], "range": ["#1f77b4", "black"]},
          "legend": {
            "title": null,
            "orient": "none",
            "legendX": 1247,
            "legendY": 8,
            "symbolType": "M-1.5,0H1.5",
            "symbolSize": 576,
            "symbolOffset": 5,
            "symbolStrokeWidth": 2.6,
            "labelFont": "DejaVu Sans",
            "labelFontSize": 16.7,
            "labelColor": "black",
            "labelOffset": 16,
            "labelLimit": 400,
            "rowPadding": 6,
            "padding": 5,
            "strokeColor": "#cccccc",
            "fillColor": "white",
            "cornerRadius": 4
          }
        }
      }
    },
    {
      "data": {"values": [{}]},
      "mark": {"type": "text", "font": "Lato", "fontSize": 30, "color": "#0c0c2c", "align": "center", "baseline": "middle"},
      "encoding": {
        "x": {
          "datum": 1238,
          "type": "quantitative",
          "scale": {"domain": [0, 1440], "nice": false, "zero": false},
          "axis": {
            "orient": "top",
            "title": "Reflectivity from METEK MIRA-35S DCR and OTT HydroMet Parsivel2 disdrometer",
            "titleFont": "DejaVu Sans",
            "titleFontSize": 16.7,
            "titleFontStyle": "italic",
            "titleFontWeight": "normal",
            "titleColor": "black",
            "titlePadding": 5,
            "labels": false,
            "ticks": false,
            "grid": false,
            "domain": false
          }
        },
        "y": {"datum": 37.9, "type": "quantitative", "scale": {"domain": [-60, 30], "nice": false, "zero": false}, "axis": null},
        "text": {"value": "A   C   T   R   I   S"}
      }
    },
    {
      "data": {"values": [{}]},
      "mark": {"type": "text", "font": "Lato", "fontSize": 17, "color": "#0c0c2c", "align": "center", "baseline": "middle"},
      "encoding": {
        "x": {"datum": 1240, "type": "quantitative", "scale": {"domain": [0, 1440], "nice": false, "zero": false}, "axis": null},
        "y": {"datum": 34.85, "type": "quantitative", "scale": {"domain": [-60, 30], "nice": false, "zero": false}, "axis": null},
        "text": {"value": "CCRES"}
      }
    }
  ],
  "resolve": {"axis": {"x": "independent", "y": "independent"}}
}
